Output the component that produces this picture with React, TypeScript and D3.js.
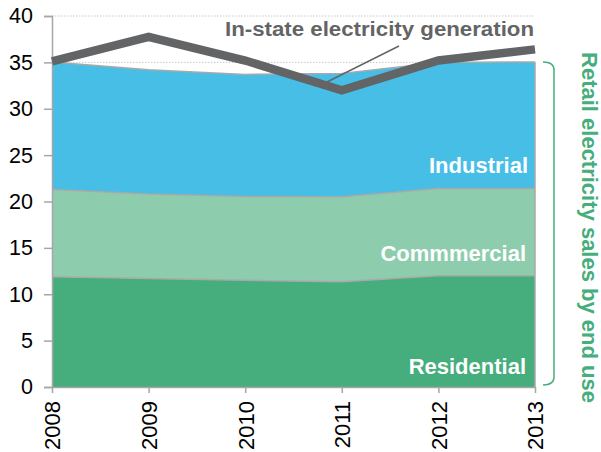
import React, { useEffect, useRef } from 'react';
import * as d3 from 'd3';

const years = [2008, 2009, 2010, 2011, 2012, 2013];
const residential = [11.9, 11.7, 11.5, 11.35, 12.0, 12.0];
const commercial = [9.4, 9.1, 9.05, 9.15, 9.4, 9.4];
const industrial = [13.75, 13.4, 13.15, 13.3, 13.6, 13.65];
const generation = [35.1, 37.75, 35.2, 32.0, 35.2, 36.4];
const yTicks = [0, 5, 10, 15, 20, 25, 30, 35, 40];

const App = () => {
  const ref = useRef<SVGSVGElement>(null);

  useEffect(() => {
    const svg = d3.select(ref.current);
    svg.selectAll('*').remove();

    const x = d3.scaleLinear().domain([2008, 2013]).range([52, 535]);
    const y = d3.scaleLinear().domain([0, 40]).range([387, 16]);
    const font = 'Liberation Sans, Arial, sans-serif';

    // gridlines
    svg.append('g')
      .selectAll('line')
      .data(yTicks.filter((d) => d > 0))
      .enter()
      .append('line')
      .attr('x1', x(2008))
      .attr('x2', x(2013))
      .attr('y1', (d) => y(d))
      .attr('y2', (d) => y(d))
      .attr('stroke', '#c8c8c8')
      .attr('stroke-dasharray', '1.5,1.5');

    const rows = years.map((yr, i) => ({
      year: yr,
      residential: residential[i],
      commercial: commercial[i],
      industrial: industrial[i],
    }));
    const keys = ['residential', 'commercial', 'industrial'];
    const colors: Record<string, string> = {
      residential: '#45ae7c',
      commercial: '#8dcdad',
      industrial: '#46bee6',
    };
    const series = d3.stack().keys(keys)(rows as any);

    const area = d3.area<any>()
      .x((d) => x(d.data.year))
      .y0((d) => y(d[0]))
      .y1((d) => y(d[1]));
    const topLine = d3.line<any>()
      .x((d) => x(d.data.year))
      .y((d) => y(d[1]));

    svg.append('g')
      .selectAll('path')
      .data(series)
      .enter()
      .append('path')
      .attr('d', area)
      .attr('fill', (d) => colors[d.key]);

    svg.append('g')
      .selectAll('path')
      .data(series)
      .enter()
      .append('path')
      .attr('d', topLine)
      .attr('fill', 'none')
      .attr('stroke', '#a9a9a9')
      .attr('stroke-width', 1.5);

    // right edge
    svg.append('line')
      .attr('x1', x(2013)).attr('x2', x(2013))
      .attr('y1', y(0)).attr('y2', y(series[2][5][1]))
      .attr('stroke', '#a9a9a9').attr('stroke-width', 1.5);

    // axes
    const yAxis = svg.append('g')
      .attr('transform', `translate(${x(2008)},0)`)
      .call(d3.axisLeft(y).tickValues(yTicks).tickSize(8).tickPadding(11));
    yAxis.select('.domain').attr('stroke', '#a6a6a6').attr('stroke-width', 1.5);
    yAxis.selectAll('.tick line').attr('stroke', '#a6a6a6').attr('stroke-width', 1.5);
    yAxis.selectAll('.tick text')
      .attr('font-family', font)
      .attr('font-size', 21.5)
      .attr('fill', '#000');

    const xAxis = svg.append('g')
      .attr('transform', `translate(0,${y(0)})`)
      .call(d3.axisBottom(x).tickValues(years).tickFormat(d3.format('d')).tickSize(6).tickSizeOuter(0));
    xAxis.select('.domain').attr('stroke', '#a6a6a6').attr('stroke-width', 1.5);
    xAxis.selectAll('.tick line').attr('stroke', '#a6a6a6').attr('stroke-width', 1.5);
    xAxis.selectAll('.tick text')
      .attr('font-family', font)
      .attr('font-size', 22)
      .attr('fill', '#000')
      .attr('transform', 'rotate(-90)')
      .attr('text-anchor', 'end')
      .attr('x', -14)
      .attr('y', 0)
      .attr('dy', '0.36em');

    // generation line
    svg.append('path')
      .datum(generation)
      .attr('d', d3.line<number>().x((_, i) => x(years[i])).y((d) => y(d)))
      .attr('fill', 'none')
      .attr('stroke', '#636466')
      .attr('stroke-width', 8.5);

    // annotation
    svg.append('line')
      .attr('x1', 399).attr('y1', 46).attr('x2', 327).attr('y2', 82)
      .attr('stroke', '#636466').attr('stroke-width', 1.5);
    svg.append('text')
      .attr('x', 225).attr('y', 36)
      .attr('font-family', font).attr('font-weight', 'bold').attr('font-size', 20)
      .attr('textLength', 309).attr('lengthAdjust', 'spacingAndGlyphs')
      .attr('fill', '#636466')
      .text('In-state electricity generation');

    // area labels
    const labels = [
      { t: 'Industrial', yv: 173, xe: 528 },
      { t: 'Commmercial', yv: 261, xe: 526 },
      { t: 'Residential', yv: 374, xe: 526 },
    ];
    svg.append('g')
      .selectAll('text')
      .data(labels)
      .enter()
      .append('text')
      .attr('x', (d) => d.xe)
      .attr('y', (d) => d.yv)
      .attr('text-anchor', 'end')
      .attr('font-family', font).attr('font-weight', 'bold').attr('font-size', 22)
      .attr('fill', '#fff')
      .text((d) => d.t);

    // bracket
    const green = '#45ae7c';
    const yTop = y(series[2][5][1]);
    const yBot = y(0) - 2;
    svg.append('path')
      .attr('d', `M543,${yTop} Q554,${yTop} 554,${yTop + 8} L554,${yBot - 8} Q554,${yBot} 543,${yBot}`)
      .attr('fill', 'none').attr('stroke', green).attr('stroke-width', 1.5);
    svg.append('text')
      .attr('transform', `translate(582,227.5) rotate(90)`)
      .attr('text-anchor', 'middle')
      .attr('font-family', font).attr('font-weight', 'bold').attr('font-size', 22)
      .attr('fill', green)
      .text('Retail electricity sales by end use');
  }, []);

  return (
    <svg ref={ref} width={601} height={452} style={{ position: 'absolute', left: 0, top: 0 }} />
  );
};

export default App;
